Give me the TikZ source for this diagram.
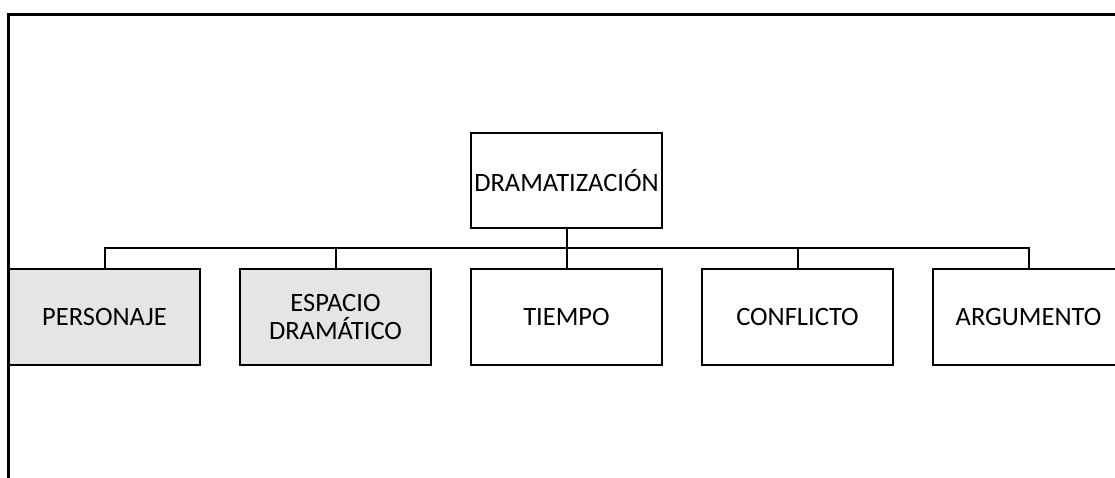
\documentclass[tikz,border=0pt]{standalone}
\usepackage{fontspec}
\setmainfont{Carlito}
\usepackage{tikz}
\usetikzlibrary{calc, positioning}
\tikzset{
    topic/.style={rectangle, draw=black, line width=2.5pt, outer sep=0pt, fill=white, align=center, minimum width=191pt, minimum height=96pt, inner sep=2pt, font=\fontsize{26.5}{28}\selectfont},
    shaded/.style={topic, fill=gray!20},
    link/.style={line width=2pt},
    frame/.style={line width=2.5pt}
}
\begin{document}
\begin{tikzpicture}[x=1pt, y=1pt, node distance=40pt]
        \useasboundingbox (0,0) rectangle (1115,-477);
        \clip (0,0) rectangle (1115,-477);
        
        % page frame
        \draw[frame] (8.5,-480) -- (8.5,-14.5) -- (1120,-14.5);
        
        \node[shaded] (Personaje) at (104.5,-317) {PERSONAJE};
        \node[shaded, right=of Personaje] (Espacio) {ESPACIO\\DRAMÁTICO};
        \node[topic, right=of Espacio] (Tiempo) {TIEMPO};
        \node[topic, right=of Tiempo] (Conflicto) {CONFLICTO};
        \node[topic, right=of Conflicto] (Argumento) {ARGUMENTO};
        
        \node[topic, above=41pt of Tiempo, minimum height=95pt] (Drama) {DRAMATIZACIÓN};
        
        \coordinate (Bus) at ($(Drama.south)+(0,-20)$);
        \draw[link] (Drama.south) -- (Bus);
        \draw[link] (Bus) -| (Personaje.north);
        \draw[link] (Bus) -| (Espacio.north);
        \draw[link] (Bus) -- (Tiempo.north);
        \draw[link] (Bus) -| (Conflicto.north);
        \draw[link] (Bus) -| (Argumento.north);
    \end{tikzpicture}
\end{document}
